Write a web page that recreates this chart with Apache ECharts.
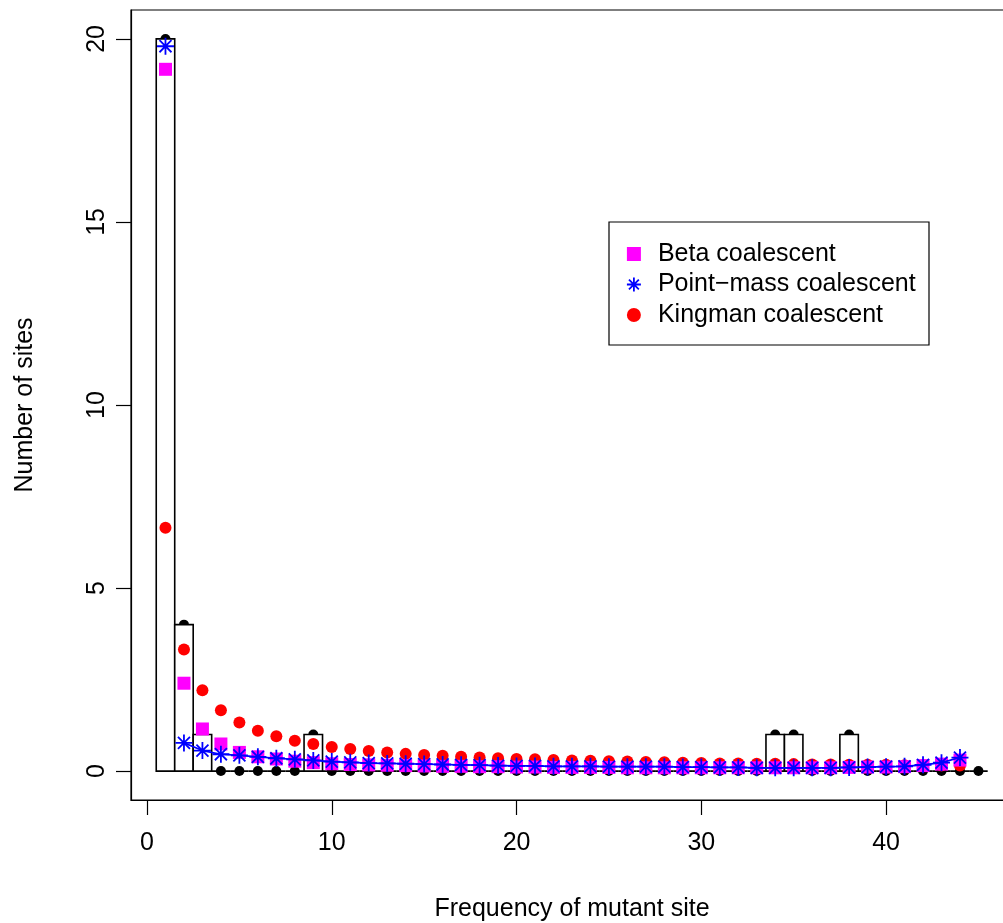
<!DOCTYPE html>
<html>
<head>
<meta charset="utf-8">
<script src="https://cdn.jsdelivr.net/npm/echarts@6/dist/echarts.min.js"></script>
<style>
html,body{margin:0;padding:0;background:#fff;}
#c{width:1003px;height:923px;}
</style>
</head>
<body>
<div id="c"></div>
<script>
// ---- data ----
const freq = [1,2,3,4,5,6,7,8,9,10,11,12,13,14,15,16,17,18,19,20,21,22,23,24,25,26,27,28,29,30,31,32,33,34,35,36,37,38,39,40,41,42,43,44,45];
const observed = [20,4,1,0,0,0,0,0,1,0, 0,0,0,0,0,0,0,0,0,0, 0,0,0,0,0,0,0,0,0,0, 0,0,0,1,1,0,0,1,0,0, 0,0,0,0,0];
const betaCoal = [19.17,2.40,1.15,0.74,0.51,0.39,0.33,0.27,0.23,0.20, 0.18,0.17,0.16,0.15,0.14,0.13,0.13,0.12,0.12,0.11, 0.11,0.10,0.10,0.10,0.10,0.09,0.09,0.09,0.09,0.09, 0.09,0.09,0.09,0.09,0.09,0.09,0.09,0.10,0.11,0.11, 0.12,0.15,0.19,0.30];
const pointMass = [19.80,0.77,0.56,0.46,0.43,0.39,0.35,0.32,0.29,0.26, 0.24,0.22,0.21,0.20,0.19,0.18,0.17,0.16,0.15,0.14, 0.14,0.13,0.13,0.13,0.12,0.12,0.12,0.12,0.11,0.11, 0.10,0.10,0.09,0.09,0.09,0.09,0.09,0.10,0.11,0.12, 0.13,0.17,0.23,0.37];
const kingman = [6.65,3.32,2.21,1.66,1.33,1.10,0.95,0.83,0.74,0.66, 0.60,0.55,0.51,0.47,0.44,0.42,0.39,0.37,0.35,0.33, 0.32,0.30,0.29,0.28,0.27,0.26,0.25,0.24,0.23,0.22, 0.21,0.21,0.20,0.20,0.19,0.18,0.18,0.17,0.17,0.17, 0.16,0.16,0.15,0.15];
const xTicks = [0,10,20,30,40];
const yTicks = [0,5,10,15,20];
const seriesNames = ['Beta coalescent','Point\u2212mass coalescent','Kingman coalescent'];

const pair = (vals) => vals.map((v,i) => [freq[i], v]);
const ASTER = 'path://M0,-10L0,10M-10,0L10,0M-7.07,-7.07L7.07,7.07M-7.07,7.07L7.07,-7.07';
const FONT = '"Liberation Sans", Arial, Helvetica, sans-serif';

const chart = echarts.init(document.getElementById('c'), null, {renderer:'canvas'});
chart.setOption({
  animation:false,
  backgroundColor:'#fff',
  textStyle:{fontFamily:FONT},
  grid:{left:131, top:10, width:882, height:790, show:true, borderColor:'#000', borderWidth:1.2,
        backgroundColor:'transparent', containLabel:false, outerBoundsMode:'none'},
  xAxis:{
    type:'value', min:-0.866, max:46.87,
    name:'Frequency of mutant site', nameLocation:'middle', nameGap:97,
    nameTextStyle:{fontSize:25, color:'#000', fontFamily:FONT},
    axisLine:{show:true, onZero:false, lineStyle:{color:'#000', width:1.2}},
    axisTick:{show:true, length:15, inside:false, customValues:xTicks, lineStyle:{color:'#000', width:1.2}},
    axisLabel:{show:true, customValues:xTicks, fontSize:25, color:'#000', margin:31, fontFamily:FONT},
    splitLine:{show:false}
  },
  yAxis:{
    type:'value', min:-0.79, max:20.79,
    name:'Number of sites', nameLocation:'middle', nameGap:93, nameRotate:90,
    nameTextStyle:{fontSize:25, color:'#000', fontFamily:FONT},
    axisLine:{show:true, onZero:false, lineStyle:{color:'#000', width:1.2}},
    axisTick:{show:true, length:15, inside:false, customValues:yTicks, lineStyle:{color:'#000', width:1.2}},
    axisLabel:{show:true, customValues:yTicks, fontSize:25, color:'#000', margin:21, rotate:90, fontFamily:FONT},
    splitLine:{show:false}
  },
  legend:{
    orient:'vertical', left:626, top:241.5, padding:0, itemGap:5.5,
    itemWidth:14, itemHeight:14, z:10,
    textStyle:{fontSize:25, color:'#000', lineHeight:25, padding:[0,0,0,12], fontFamily:FONT},
    data:[
      {name:seriesNames[0], icon:'rect', itemStyle:{color:'#FF00FF', opacity:1}},
      {name:seriesNames[1], icon:ASTER, itemStyle:{color:'#0000FF', borderColor:'#0000FF', borderWidth:1.8, opacity:1}},
      {name:seriesNames[2], icon:'circle', itemStyle:{color:'#FF0000', opacity:1}}
    ]
  },
  graphic:[
    {type:'rect', z:5, shape:{x:609, y:222, width:320, height:123}, style:{fill:'#fff', stroke:'#000', lineWidth:1.2}}
  ],
  series:[
    {
      name:'observed-points', type:'scatter', z:1, symbol:'circle', symbolSize:10,
      itemStyle:{color:'#000', opacity:1}, data:pair(observed), silent:true
    },
    {
      name:'observed-bars', type:'custom', z:2, silent:true,
      data:pair(observed),
      renderItem:function(params, api){
        const x = api.value(0), y = api.value(1);
        const p0 = api.coord([x-0.5, y]);
        const p1 = api.coord([x+0.5, 0]);
        return {type:'rect', shape:{x:p0[0], y:p0[1], width:p1[0]-p0[0], height:p1[1]-p0[1]},
          style:{fill:'#fff', stroke:'#000', lineWidth:1.6}};
      }
    },
    {
      name:seriesNames[2], type:'scatter', z:3, symbol:'circle', symbolSize:12,
      itemStyle:{color:'#FF0000', opacity:1}, data:pair(kingman)
    },
    {
      name:seriesNames[0], type:'scatter', z:4, symbol:'rect', symbolSize:13,
      itemStyle:{color:'#FF00FF', opacity:1}, data:pair(betaCoal)
    },
    {
      name:'point-mass-line', type:'line', z:5, showSymbol:false, silent:true,
      lineStyle:{color:'#0000FF', width:1.7}, data:pair(pointMass).slice(1)
    },
    {
      name:seriesNames[1], type:'scatter', z:6, symbol:ASTER, symbolSize:17,
      itemStyle:{color:'#0000FF', borderColor:'#0000FF', borderWidth:1.8, opacity:1}, data:pair(pointMass)
    }
  ]
});
</script>
</body>
</html>
